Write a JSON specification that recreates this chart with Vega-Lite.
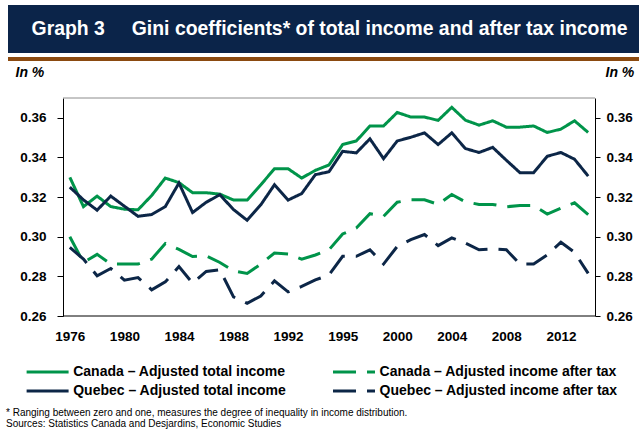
{
  "$schema": "https://vega.github.io/schema/vega-lite/v6.json",
  "padding": {"left": 6, "top": 5, "right": 0, "bottom": 0},
  "background": "white",
  "config": {"font": "Liberation Sans", "view": {"stroke": null}},
  "title": {
    "text": ["* Ranging between zero and one, measures the degree of inequality in income distribution.", "Sources: Statistics Canada and Desjardins, Economic Studies"],
    "orient": "bottom", "anchor": "start", "frame": "bounds",
    "fontSize": 10, "fontWeight": "normal", "color": "#000",
    "lineHeight": 11, "offset": 10, "baseline": "top", "dx": -2
  },
  "spacing": 1,
  "vconcat": [
    {
      "spacing": 0,
      "vconcat": [
        {
          "width": 633, "height": 48,
          "view": {"fill": "#0b2449", "stroke": null},
          "data": {"values": [{"t": "Graph 3\u00a0\u00a0\u00a0\u00a0\u00a0Gini coefficients* of total income and after tax income"}]},
          "mark": {"type": "text", "color": "#ffffff", "fontSize": 19.4, "fontWeight": "bold", "dx": 5, "baseline": "middle", "align": "center"},
          "encoding": {"text": {"field": "t"}}
        },
        {
          "width": 633, "height": 4,
          "view": {"fill": "#8b4a10", "stroke": null},
          "data": {"values": [{"t": ""}]},
          "mark": {"type": "text"},
          "encoding": {"text": {"field": "t"}}
        }
      ]
    },
    {
      "width": 587, "height": 218,
      "data": {"values": [
        {"year":1976,"series":"Canada – Adjusted total income","v":0.330},
        {"year":1977,"series":"Canada – Adjusted total income","v":0.3152},
        {"year":1978,"series":"Canada – Adjusted total income","v":0.3205},
        {"year":1979,"series":"Canada – Adjusted total income","v":0.3152},
        {"year":1980,"series":"Canada – Adjusted total income","v":0.3139},
        {"year":1981,"series":"Canada – Adjusted total income","v":0.3136},
        {"year":1982,"series":"Canada – Adjusted total income","v":0.3208},
        {"year":1983,"series":"Canada – Adjusted total income","v":0.3296},
        {"year":1984,"series":"Canada – Adjusted total income","v":0.3273},
        {"year":1985,"series":"Canada – Adjusted total income","v":0.3222},
        {"year":1986,"series":"Canada – Adjusted total income","v":0.3222},
        {"year":1987,"series":"Canada – Adjusted total income","v":0.3215},
        {"year":1988,"series":"Canada – Adjusted total income","v":0.3185},
        {"year":1989,"series":"Canada – Adjusted total income","v":0.3185},
        {"year":1990,"series":"Canada – Adjusted total income","v":0.3262},
        {"year":1991,"series":"Canada – Adjusted total income","v":0.3343},
        {"year":1992,"series":"Canada – Adjusted total income","v":0.3343},
        {"year":1993,"series":"Canada – Adjusted total income","v":0.3296},
        {"year":1994,"series":"Canada – Adjusted total income","v":0.3335},
        {"year":1995,"series":"Canada – Adjusted total income","v":0.3362},
        {"year":1996,"series":"Canada – Adjusted total income","v":0.3465},
        {"year":1997,"series":"Canada – Adjusted total income","v":0.3483},
        {"year":1998,"series":"Canada – Adjusted total income","v":0.3559},
        {"year":1999,"series":"Canada – Adjusted total income","v":0.3559},
        {"year":2000,"series":"Canada – Adjusted total income","v":0.3627},
        {"year":2001,"series":"Canada – Adjusted total income","v":0.3604},
        {"year":2002,"series":"Canada – Adjusted total income","v":0.3604},
        {"year":2003,"series":"Canada – Adjusted total income","v":0.3587},
        {"year":2004,"series":"Canada – Adjusted total income","v":0.3653},
        {"year":2005,"series":"Canada – Adjusted total income","v":0.3588},
        {"year":2006,"series":"Canada – Adjusted total income","v":0.3563},
        {"year":2007,"series":"Canada – Adjusted total income","v":0.3585},
        {"year":2008,"series":"Canada – Adjusted total income","v":0.3553},
        {"year":2009,"series":"Canada – Adjusted total income","v":0.3553},
        {"year":2010,"series":"Canada – Adjusted total income","v":0.3559},
        {"year":2011,"series":"Canada – Adjusted total income","v":0.3526},
        {"year":2012,"series":"Canada – Adjusted total income","v":0.3543},
        {"year":2013,"series":"Canada – Adjusted total income","v":0.3585},
        {"year":2014,"series":"Canada – Adjusted total income","v":0.3526},
        {"year":1976,"series":"Canada – Adjusted income after tax","v":0.300},
        {"year":1977,"series":"Canada – Adjusted income after tax","v":0.2870},
        {"year":1978,"series":"Canada – Adjusted income after tax","v":0.2911},
        {"year":1979,"series":"Canada – Adjusted income after tax","v":0.2862},
        {"year":1980,"series":"Canada – Adjusted income after tax","v":0.2862},
        {"year":1981,"series":"Canada – Adjusted income after tax","v":0.2862},
        {"year":1982,"series":"Canada – Adjusted income after tax","v":0.2887},
        {"year":1983,"series":"Canada – Adjusted income after tax","v":0.2966},
        {"year":1984,"series":"Canada – Adjusted income after tax","v":0.2936},
        {"year":1985,"series":"Canada – Adjusted income after tax","v":0.2900},
        {"year":1986,"series":"Canada – Adjusted income after tax","v":0.2903},
        {"year":1987,"series":"Canada – Adjusted income after tax","v":0.2870},
        {"year":1988,"series":"Canada – Adjusted income after tax","v":0.2828},
        {"year":1989,"series":"Canada – Adjusted income after tax","v":0.2815},
        {"year":1990,"series":"Canada – Adjusted income after tax","v":0.2862},
        {"year":1991,"series":"Canada – Adjusted income after tax","v":0.2918},
        {"year":1992,"series":"Canada – Adjusted income after tax","v":0.2913},
        {"year":1993,"series":"Canada – Adjusted income after tax","v":0.2887},
        {"year":1994,"series":"Canada – Adjusted income after tax","v":0.2908},
        {"year":1995,"series":"Canada – Adjusted income after tax","v":0.2934},
        {"year":1996,"series":"Canada – Adjusted income after tax","v":0.3014},
        {"year":1997,"series":"Canada – Adjusted income after tax","v":0.3044},
        {"year":1998,"series":"Canada – Adjusted income after tax","v":0.3116},
        {"year":1999,"series":"Canada – Adjusted income after tax","v":0.3103},
        {"year":2000,"series":"Canada – Adjusted income after tax","v":0.3174},
        {"year":2001,"series":"Canada – Adjusted income after tax","v":0.3186},
        {"year":2002,"series":"Canada – Adjusted income after tax","v":0.3186},
        {"year":2003,"series":"Canada – Adjusted income after tax","v":0.3163},
        {"year":2004,"series":"Canada – Adjusted income after tax","v":0.3213},
        {"year":2005,"series":"Canada – Adjusted income after tax","v":0.3176},
        {"year":2006,"series":"Canada – Adjusted income after tax","v":0.3163},
        {"year":2007,"series":"Canada – Adjusted income after tax","v":0.3163},
        {"year":2008,"series":"Canada – Adjusted income after tax","v":0.3151},
        {"year":2009,"series":"Canada – Adjusted income after tax","v":0.3158},
        {"year":2010,"series":"Canada – Adjusted income after tax","v":0.3158},
        {"year":2011,"series":"Canada – Adjusted income after tax","v":0.3114},
        {"year":2012,"series":"Canada – Adjusted income after tax","v":0.3144},
        {"year":2013,"series":"Canada – Adjusted income after tax","v":0.3171},
        {"year":2014,"series":"Canada – Adjusted income after tax","v":0.3112},
        {"year":1976,"series":"Quebec – Adjusted total income","v":0.3250},
        {"year":1977,"series":"Quebec – Adjusted total income","v":0.3186},
        {"year":1978,"series":"Quebec – Adjusted total income","v":0.3134},
        {"year":1979,"series":"Quebec – Adjusted total income","v":0.3205},
        {"year":1980,"series":"Quebec – Adjusted total income","v":0.3154},
        {"year":1981,"series":"Quebec – Adjusted total income","v":0.3103},
        {"year":1982,"series":"Quebec – Adjusted total income","v":0.3112},
        {"year":1983,"series":"Quebec – Adjusted total income","v":0.3152},
        {"year":1984,"series":"Quebec – Adjusted total income","v":0.3271},
        {"year":1985,"series":"Quebec – Adjusted total income","v":0.3122},
        {"year":1986,"series":"Quebec – Adjusted total income","v":0.3174},
        {"year":1987,"series":"Quebec – Adjusted total income","v":0.3212},
        {"year":1988,"series":"Quebec – Adjusted total income","v":0.3137},
        {"year":1989,"series":"Quebec – Adjusted total income","v":0.3083},
        {"year":1990,"series":"Quebec – Adjusted total income","v":0.3161},
        {"year":1991,"series":"Quebec – Adjusted total income","v":0.3262},
        {"year":1992,"series":"Quebec – Adjusted total income","v":0.3185},
        {"year":1993,"series":"Quebec – Adjusted total income","v":0.3218},
        {"year":1994,"series":"Quebec – Adjusted total income","v":0.3313},
        {"year":1995,"series":"Quebec – Adjusted total income","v":0.3328},
        {"year":1996,"series":"Quebec – Adjusted total income","v":0.3431},
        {"year":1997,"series":"Quebec – Adjusted total income","v":0.3423},
        {"year":1998,"series":"Quebec – Adjusted total income","v":0.3494},
        {"year":1999,"series":"Quebec – Adjusted total income","v":0.3394},
        {"year":2000,"series":"Quebec – Adjusted total income","v":0.3483},
        {"year":2001,"series":"Quebec – Adjusted total income","v":0.3502},
        {"year":2002,"series":"Quebec – Adjusted total income","v":0.3524},
        {"year":2003,"series":"Quebec – Adjusted total income","v":0.3465},
        {"year":2004,"series":"Quebec – Adjusted total income","v":0.3524},
        {"year":2005,"series":"Quebec – Adjusted total income","v":0.3445},
        {"year":2006,"series":"Quebec – Adjusted total income","v":0.3425},
        {"year":2007,"series":"Quebec – Adjusted total income","v":0.3451},
        {"year":2008,"series":"Quebec – Adjusted total income","v":0.3386},
        {"year":2009,"series":"Quebec – Adjusted total income","v":0.3323},
        {"year":2010,"series":"Quebec – Adjusted total income","v":0.3323},
        {"year":2011,"series":"Quebec – Adjusted total income","v":0.3406},
        {"year":2012,"series":"Quebec – Adjusted total income","v":0.3425},
        {"year":2013,"series":"Quebec – Adjusted total income","v":0.3391},
        {"year":2014,"series":"Quebec – Adjusted total income","v":0.3306},
        {"year":1976,"series":"Quebec – Adjusted income after tax","v":0.2946},
        {"year":1977,"series":"Quebec – Adjusted income after tax","v":0.2887},
        {"year":1978,"series":"Quebec – Adjusted income after tax","v":0.2803},
        {"year":1979,"series":"Quebec – Adjusted income after tax","v":0.2840},
        {"year":1980,"series":"Quebec – Adjusted income after tax","v":0.2781},
        {"year":1981,"series":"Quebec – Adjusted income after tax","v":0.2794},
        {"year":1982,"series":"Quebec – Adjusted income after tax","v":0.2732},
        {"year":1983,"series":"Quebec – Adjusted income after tax","v":0.2772},
        {"year":1984,"series":"Quebec – Adjusted income after tax","v":0.2850},
        {"year":1985,"series":"Quebec – Adjusted income after tax","v":0.2766},
        {"year":1986,"series":"Quebec – Adjusted income after tax","v":0.2825},
        {"year":1987,"series":"Quebec – Adjusted income after tax","v":0.2833},
        {"year":1988,"series":"Quebec – Adjusted income after tax","v":0.2696},
        {"year":1989,"series":"Quebec – Adjusted income after tax","v":0.2664},
        {"year":1990,"series":"Quebec – Adjusted income after tax","v":0.2701},
        {"year":1991,"series":"Quebec – Adjusted income after tax","v":0.2777},
        {"year":1992,"series":"Quebec – Adjusted income after tax","v":0.2722},
        {"year":1993,"series":"Quebec – Adjusted income after tax","v":0.2749},
        {"year":1994,"series":"Quebec – Adjusted income after tax","v":0.2782},
        {"year":1995,"series":"Quebec – Adjusted income after tax","v":0.2807},
        {"year":1996,"series":"Quebec – Adjusted income after tax","v":0.2901},
        {"year":1997,"series":"Quebec – Adjusted income after tax","v":0.2901},
        {"year":1998,"series":"Quebec – Adjusted income after tax","v":0.2934},
        {"year":1999,"series":"Quebec – Adjusted income after tax","v":0.2862},
        {"year":2000,"series":"Quebec – Adjusted income after tax","v":0.2951},
        {"year":2001,"series":"Quebec – Adjusted income after tax","v":0.2985},
        {"year":2002,"series":"Quebec – Adjusted income after tax","v":0.3011},
        {"year":2003,"series":"Quebec – Adjusted income after tax","v":0.2955},
        {"year":2004,"series":"Quebec – Adjusted income after tax","v":0.2994},
        {"year":2005,"series":"Quebec – Adjusted income after tax","v":0.2968},
        {"year":2006,"series":"Quebec – Adjusted income after tax","v":0.2934},
        {"year":2007,"series":"Quebec – Adjusted income after tax","v":0.2938},
        {"year":2008,"series":"Quebec – Adjusted income after tax","v":0.2934},
        {"year":2009,"series":"Quebec – Adjusted income after tax","v":0.2862},
        {"year":2010,"series":"Quebec – Adjusted income after tax","v":0.2862},
        {"year":2011,"series":"Quebec – Adjusted income after tax","v":0.2908},
        {"year":2012,"series":"Quebec – Adjusted income after tax","v":0.2972},
        {"year":2013,"series":"Quebec – Adjusted income after tax","v":0.2921},
        {"year":2014,"series":"Quebec – Adjusted income after tax","v":0.2815}
      ]},
      "layer": [
        {
          "data": {"values": [{}]},
          "mark": {"type": "rule", "color": "#8c8c8c", "strokeWidth": 1},
          "encoding": {
            "x": {"datum": 1975.5, "type": "quantitative", "title": null},
            "x2": {"datum": 2014.5},
            "y": {"datum": 0.37, "type": "quantitative", "scale": {"domain": [0.26, 0.37], "nice": false, "zero": false}, "axis": null}
          }
        },
        {
          "data": {"values": [{}]},
          "mark": {"type": "rule", "color": "#000000", "strokeWidth": 1},
          "encoding": {
            "x": {"datum": 1975.5, "type": "quantitative", "title": null},
            "x2": {"datum": 2014.5},
            "y": {"datum": 0.26, "type": "quantitative", "scale": {"domain": [0.26, 0.37], "nice": false, "zero": false}, "axis": null}
          }
        },
        {
          "mark": {"type": "line", "strokeWidth": 3},
          "encoding": {
            "x": {
              "field": "year", "type": "quantitative",
              "scale": {"domain": [1971.468, 2014.5], "nice": false, "zero": false},
              "axis": {
                "values": [1976, 1980, 1984, 1988, 1992, 1996, 2000, 2004, 2008, 2012],
                "format": "d",
                "labelExpr": "datum.value == 1996 ? '1995' : datum.label",
                "ticks": false, "tickSize": 0, "labelPadding": 13, "domain": false,
                "labelFontSize": 13.5, "labelFontWeight": "bold", "labelColor": "#000",
                "grid": false, "title": null
              }
            },
            "y": {
              "field": "v", "type": "quantitative",
              "scale": {"domain": [0.26, 0.37], "nice": false, "zero": false},
              "axis": {
                "orient": "left", "offset": -55,
                "values": [0.26, 0.28, 0.30, 0.32, 0.34, 0.36],
                "format": ".2f", "grid": false,
                "tickSize": 6, "tickColor": "#000", "labelPadding": 11,
                "labelFontSize": 13.5, "labelFontWeight": "bold", "labelColor": "#000",
                "domainColor": "#000",
                "title": "In %", "titleAngle": 0, "titleAlign": "left", "titleBaseline": "middle",
                "titleX": -48, "titleY": -25.5,
                "titleFontSize": 14, "titleFontStyle": "italic", "titleFontWeight": "bold", "titleColor": "#000"
              }
            },
            "color": {
              "field": "series", "type": "nominal",
              "scale": {
                "domain": ["Canada – Adjusted total income", "Canada – Adjusted income after tax", "Quebec – Adjusted total income", "Quebec – Adjusted income after tax"],
                "range": ["#00944a", "#00944a", "#0c2647", "#0c2647"]
              },
              "legend": {
                "title": null, "orient": "none", "legendX": 29.6, "legendY": 357, "direction": "horizontal",
                "columns": 2, "symbolType": "M-2.5,0H2.5", "symbolSize": 282, "symbolStrokeWidth": 3,
                "labelFontSize": 14, "labelFontWeight": "bold", "labelColor": "#000",
                "labelOffset": 15.6, "columnPadding": 40.4, "rowPadding": 2, "labelLimit": 400, "padding": 0
              }
            },
            "strokeDash": {
              "field": "series", "type": "nominal",
              "scale": {
                "domain": ["Canada – Adjusted total income", "Canada – Adjusted income after tax", "Quebec – Adjusted total income", "Quebec – Adjusted income after tax"],
                "range": [[1, 0], [23, 11], [1, 0], [23, 11]]
              },
              "legend": {
                "title": null, "orient": "none", "legendX": 29.6, "legendY": 357, "direction": "horizontal",
                "columns": 2, "symbolType": "M-2.5,0H2.5", "symbolSize": 282, "symbolStrokeWidth": 3,
                "labelFontSize": 14, "labelFontWeight": "bold", "labelColor": "#000",
                "labelOffset": 15.6, "columnPadding": 40.4, "rowPadding": 2, "labelLimit": 400, "padding": 0
              }
            }
          }
        },
        {
          "mark": {"type": "line", "strokeOpacity": 0},
          "encoding": {
            "x": {"field": "year", "type": "quantitative", "title": null},
            "detail": {"field": "series"},
            "y": {
              "field": "v", "type": "quantitative",
              "scale": {"domain": [0.26, 0.37], "nice": false, "zero": false},
              "axis": {
                "orient": "right",
                "values": [0.26, 0.28, 0.30, 0.32, 0.34, 0.36],
                "format": ".2f", "grid": false,
                "tickSize": 5, "tickColor": "#000", "labelPadding": 6,
                "labelFontSize": 13.5, "labelFontWeight": "bold", "labelColor": "#000",
                "domainColor": "#000",
                "title": "In %", "titleAngle": 0, "titleAlign": "left", "titleBaseline": "middle",
                "titleX": 10, "titleY": -25.5,
                "titleFontSize": 14, "titleFontStyle": "italic", "titleFontWeight": "bold", "titleColor": "#000"
              }
            }
          }
        }
      ],
      "resolve": {"scale": {"y": "independent"}}
    }
  ]
}
